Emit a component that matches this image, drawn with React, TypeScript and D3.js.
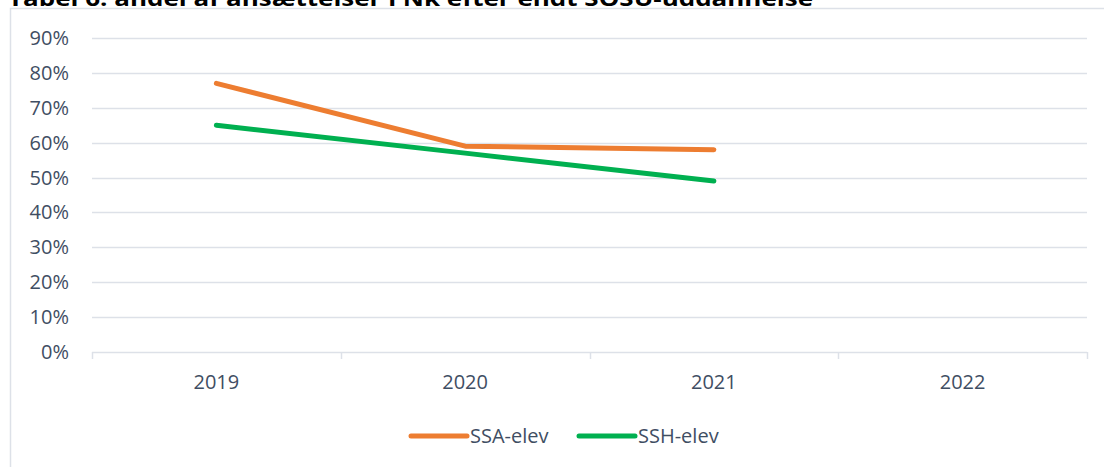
import React from "react";
import * as d3 from "d3";

const categories = ["2019", "2020", "2021", "2022"];
const ssaValues = [0.77, 0.59, 0.58];
const sshValues = [0.65, 0.57, 0.49];
const yTicks = [0, 0.1, 0.2, 0.3, 0.4, 0.5, 0.6, 0.7, 0.8, 0.9];
const seriesNames = ["SSA-elev", "SSH-elev"];
const seriesColors = ["#ED7D31", "#00B050"];
const title = "Tabel 6: andel af ansættelser i Nk efter endt SOSU-uddannelse";

const W = 1104;
const H = 467;
const FONT = "'Open Sans', sans-serif";
const TEXT = "#3F4E63";
const GRID = "#DDE1E8";

export default function App() {
  const x = d3.scaleBand<string>().domain(categories).range([92, 1087]);
  const y = d3.scaleLinear().domain([0, 0.9]).range([352, 38]);
  const line = d3
    .line<number>()
    .x((_, i) => (x(categories[i]) as number) + x.bandwidth() / 2)
    .y((d) => y(d));
  const series = [ssaValues, sshValues];
  const tickXs = categories.map((c) => x(c) as number).concat([x.range()[1]]);

  return (
    <svg width={W} height={H} style={{ position: "absolute", left: 0, top: 0, background: "#fff" }}>
      <text x={8} y={6} fontFamily={FONT} fontWeight="bold" fontSize={22} fill="#000" textLength={805} lengthAdjust="spacingAndGlyphs">
        {title}
      </text>
      <rect x={10.5} y={8.5} width={W + 20} height={H + 20} fill="none" stroke={GRID} strokeWidth={1.5} />
      {yTicks.map((t) => (
        <g key={t}>
          {t > 0 && <line x1={92} x2={1087} y1={Math.round(y(t)) + 0.5} y2={Math.round(y(t)) + 0.5} stroke={GRID} strokeWidth={1.5} />}
          <text x={69} y={y(t)} dy="0.35em" textAnchor="end" fontFamily={FONT} fontSize={20} fill={TEXT}>
            {Math.round(t * 100)}%
          </text>
        </g>
      ))}
      <line x1={92} x2={1087} y1={352.5} y2={352.5} stroke={GRID} strokeWidth={1.5} />
      {tickXs.map((tx, i) => (
        <line key={i} x1={Math.round(tx) + 0.5} x2={Math.round(tx) + 0.5} y1={352} y2={359} stroke={GRID} strokeWidth={1.5} />
      ))}
      {categories.map((c) => (
        <text key={c} x={(x(c) as number) + x.bandwidth() / 2} y={382} dy="0.35em" textAnchor="middle" fontFamily={FONT} fontSize={20} fill={TEXT}>
          {c}
        </text>
      ))}
      {series.map((s, i) => (
        <path key={i} d={line(s) || ""} fill="none" stroke={seriesColors[i]} strokeWidth={5} strokeLinecap="round" strokeLinejoin="round" />
      ))}
      {seriesNames.map((n, i) => {
        const lx = [411, 579][i];
        return (
          <g key={n}>
            <line x1={lx} x2={lx + 56} y1={436} y2={436} stroke={seriesColors[i]} strokeWidth={5} strokeLinecap="round" />
            <text x={lx + 59} y={436} dy="0.35em" fontFamily={FONT} fontSize={20} fill={TEXT}>
              {n}
            </text>
          </g>
        );
      })}
    </svg>
  );
}
